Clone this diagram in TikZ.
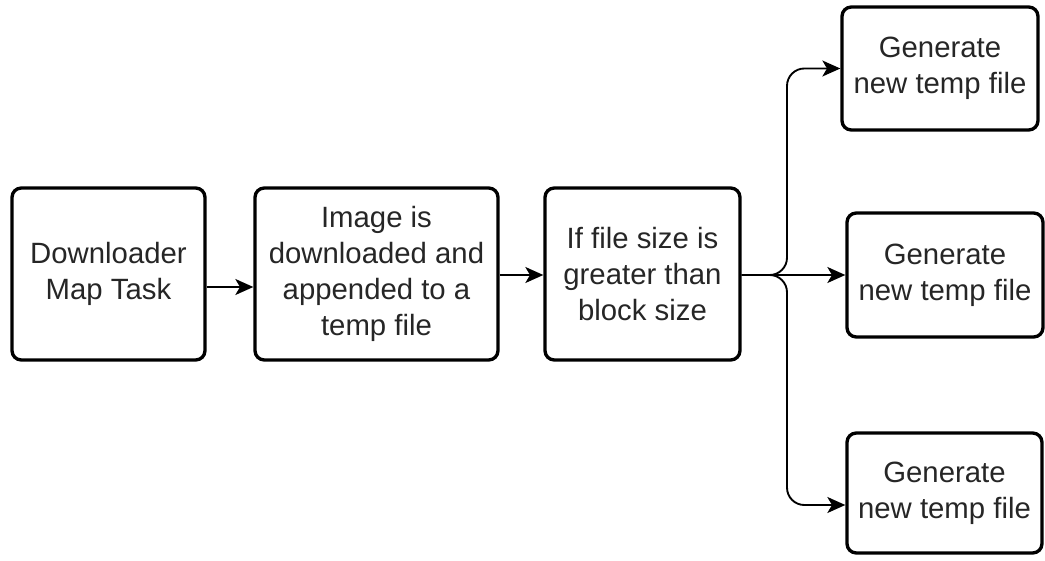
\documentclass[tikz,border=0pt]{standalone}
\usepackage{fontspec}
\setmainfont{Liberation Sans}
\usetikzlibrary{arrows.meta}
\begin{document}
\begin{tikzpicture}[x=0.75pt,y=-0.75pt,
  box/.style={draw=black, line width=2.5pt, rounded corners=7pt, align=center,
    inner sep=0pt, text=black!85,
    font=\fontsize{22}{27}\selectfont},
  arr/.style={draw=black, line width=1.4pt,
    -{Stealth[length=13.5pt,width=12pt,inset=3.5pt]}}]
\useasboundingbox (0,0) rectangle (1045,560);
\node[box, minimum width=144.75pt, minimum height=129pt] (n1) at (108.5,274) {Downloader\\Map Task};
\node[box, minimum width=182.25pt, minimum height=129pt] (n2) at (376.5,274) {Image is\\downloaded and\\appended to a\\temp file};
\node[box, minimum width=146.25pt, minimum height=129pt] (n3) at (642.5,274) {If file size is\\greater than\\block size};
\node[box, minimum width=147pt, minimum height=92.25pt] (n4) at (940,68.5) {Generate\\new temp file};
\node[box, minimum width=147pt, minimum height=93pt] (n5) at (945,275) {Generate\\new temp file};
\node[box, minimum width=146.25pt, minimum height=90pt] (n6) at (944.5,493) {Generate\\new temp file};
\coordinate (a1) at (0,287);
\coordinate (a2) at (0,275);
\coordinate (bx) at (787,275);
\coordinate (a6) at (0,505);
\draw[arr] (n1.east|-a1) -- (n2.west|-a1);
\draw[arr] (n2.east|-a2) -- (n3.west|-a2);
\draw[arr] (n3.east|-a2) -- (n5.west|-a2);
\draw[arr, rounded corners=13pt] (n3.east|-a2) -- (bx) |- (n4.west);
\draw[arr, rounded corners=13pt] (n3.east|-a2) -- (bx) |- (n6.west|-a6);
\end{tikzpicture}
\end{document}
